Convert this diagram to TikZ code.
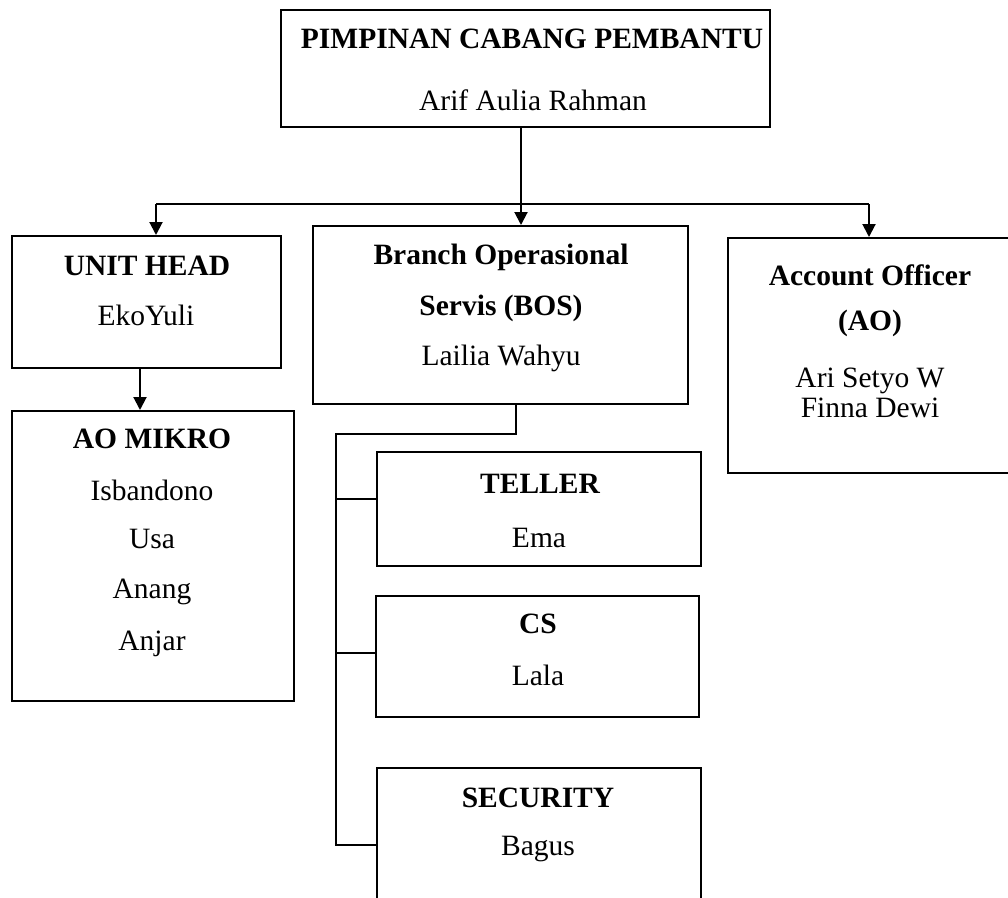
\documentclass[tikz,border=0pt]{standalone}
\usepackage{fontspec}
\setmainfont{Liberation Serif}
\usetikzlibrary{arrows.meta}
\begin{document}
\begin{tikzpicture}[x=1pt,y=-1pt,
  box/.style={draw,line width=2pt,inner sep=0pt},
  conn/.style={line width=2pt},
  arr/.style={line width=2pt,-{Triangle[length=13pt,width=13pt]}},
  lbl/.style={anchor=base,inner sep=0pt,font=\fontsize{29.5}{34}\selectfont},
  blbl/.style={lbl,font=\fontsize{29.5}{34}\selectfont\bfseries}]
\useasboundingbox (0,0) rectangle (1008,897);
% boxes
\node[box,minimum width=489pt,minimum height=117pt] (top) at (525.5,68.5) {};
\node[box,minimum width=269pt,minimum height=132pt] (uh) at (146.5,302) {};
\node[box,minimum width=375pt,minimum height=178pt] (bos) at (500.5,315) {};
\node[box,minimum width=282pt,minimum height=235pt] (ao) at (869,355.5) {};
\node[box,minimum width=282pt,minimum height=290pt] (mikro) at (153,556) {};
\node[box,minimum width=324pt,minimum height=114pt] (teller) at (539,509) {};
\node[box,minimum width=323pt,minimum height=121pt] (cs) at (537.5,656.5) {};
\node[box,minimum width=324pt,minimum height=170pt] (sec) at (539,853) {};
% texts
\node[blbl] (t1) at (532,48) {PIMPINAN CABANG PEMBANTU};
\node[lbl] (t2) at (533,110) {Arif Aulia Rahman};
\node[blbl] (u1) at (147,275) {UNIT HEAD};
\node[lbl] (u2) at (146,325) {EkoYuli};
\node[blbl] (b1t) at (501,264) {Branch Operasional};
\node[blbl] (b2t) at (501,315) {Servis (BOS)};
\node[lbl] (b3t) at (501,365) {Lailia Wahyu};
\node[blbl] (a1) at (870,285) {Account Officer};
\node[blbl] (a2) at (870,330) {(AO)};
\node[lbl] (a3) at (870,387) {Ari Setyo W};
\node[lbl] (a4) at (870,417) {Finna Dewi};
\node[blbl] (m1) at (152,448) {AO MIKRO};
\node[lbl] (m2) at (152,500) {Isbandono};
\node[lbl] (m3) at (152,548) {Usa};
\node[lbl] (m4) at (152,598) {Anang};
\node[lbl] (m5) at (152,650) {Anjar};
\node[blbl] (te1) at (540,493) {TELLER};
\node[lbl] (te2) at (539,547) {Ema};
\node[blbl] (c1) at (538,633) {CS};
\node[lbl] (c2) at (538,685) {Lala};
\node[blbl] (s1) at (538,807) {SECURITY};
\node[lbl] (s2) at (538,855) {Bagus};
% connectors
\coordinate (j) at (521,204);
\coordinate (ju) at (156,204);
\coordinate (ja) at (869,204);
\coordinate (um) at (140,0);
\draw[conn] (top.south -| j) -- (j);
\draw[arr] (j) -- (j |- bos.north);
\draw[conn] (ju) -- (ja);
\draw[arr] (ju) -- (ju |- uh.north);
\draw[arr] (ja) -- (ja |- ao.north);
\draw[arr] (uh.south -| um) -- (um |- mikro.north);
\coordinate (bx) at (516,434);
\coordinate (bt) at (336,434);
\coordinate (br1) at (336,499);
\coordinate (br2) at (336,653);
\coordinate (br3) at (336,845);
\draw[conn] (bos.south -| bx) -- (bx) -- (bt) -- (br3) -- (br3 -| sec.west);
\draw[conn] (br1) -- (br1 -| teller.west);
\draw[conn] (br2) -- (br2 -| cs.west);
\end{tikzpicture}
\end{document}
